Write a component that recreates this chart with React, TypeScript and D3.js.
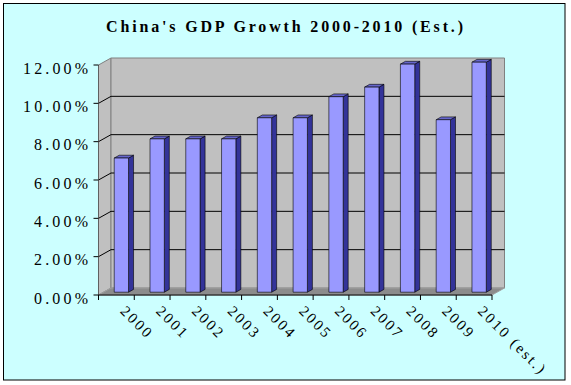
import React from 'react';
import * as d3 from 'd3';

// chart values
const years = ['2000', '2001', '2002', '2003', '2004', '2005', '2006', '2007', '2008', '2009', '2010 (est.)'];
const growth = [7.0, 8.0, 8.0, 8.0, 9.1, 9.1, 10.2, 10.7, 11.9, 9.0, 12.0];
const yTicks = [0, 2, 4, 6, 8, 10, 12];
const title = "China's GDP Growth 2000-2010 (Est.)";

const width = 571;
const height = 385;
const frame = { left: 98.5, right: 492, bottom: 295, top: 65 };
// 3d depth offset of the back wall
const depth = { dx: 12.5, dy: -7 };
const barDepth = [0.4, 0.8];
const serif = 'Liberation Serif';

const pts = (p: [number, number][]) => p.map(d => d.join(',')).join(' ');

const App = () => {
  const x = d3.scaleBand<string>()
    .domain(years)
    .range([frame.left, frame.right]);

  const y = d3.scaleLinear()
    .domain([0, 12])
    .range([frame.bottom, frame.top]);

  const fmt = (v: number) => d3.format('.2f')(v) + '%';

  const { dx, dy } = depth;
  const y0 = y(0);
  const yTop = y(12);
  const xl = frame.left;
  const xr = frame.right;

  const bw = x.bandwidth() * 0.4;
  const fx = barDepth[0] * dx;
  const fy = barDepth[0] * dy;
  const sx = (barDepth[1] - barDepth[0]) * dx;
  const sy = (barDepth[1] - barDepth[0]) * dy;

  return (
    <svg width={width} height={height} fontFamily={serif} style={{ position: 'absolute', left: 0, top: 0 }}>
      <rect x={0} y={0} width={width} height={height} fill='#fff' />
      <rect x={3.5} y={3.5} width={561.5} height={376.5} fill='#CCFFFF' stroke='#000' strokeWidth={1} />

      <text x={284.5} y={32} textAnchor='middle' fontFamily={serif} fontWeight='bold' fontSize={16}
        textLength={357} lengthAdjust='spacing' fill='#000'>{title}</text>

      {/* walls and floor */}
      <polygon points={pts([[xl, yTop], [xl + dx, yTop + dy], [xl + dx, y0 + dy], [xl, y0]])}
        fill='#C0C0C0' stroke='#808080' strokeWidth={1} />
      <polygon points={pts([[xl + dx, yTop + dy], [xr + dx, yTop + dy], [xr + dx, y0 + dy], [xl + dx, y0 + dy]])}
        fill='#C0C0C0' stroke='#808080' strokeWidth={1} />
      <polygon points={pts([[xl, y0], [xl + dx, y0 + dy], [xr + dx, y0 + dy], [xr, y0]])}
        fill='#8C8C8C' stroke='#A0A0A0' strokeWidth={1} />

      {/* gridlines */}
      <g stroke='#000' strokeWidth={1} fill='none'>
        {yTicks.filter(t => t > 0 && t < 12).map(t => (
          <polyline key={t}
            points={pts([[xl, y(t)], [xl + dx, y(t) + dy], [xr + dx, y(t) + dy]])} />
        ))}
      </g>

      {/* bars */}
      <g stroke='#000' strokeWidth={0.6} strokeLinejoin='round'>
        {years.map((yr, i) => {
          const bx = (x(yr) as number) + (x.bandwidth() - bw) / 2 + fx;
          const top = y(growth[i]) + fy;
          const bot = y0 + fy;
          return (
            <g key={yr}>
              <polygon fill='#333399'
                points={pts([[bx + bw, top], [bx + bw + sx, top + sy], [bx + bw + sx, bot + sy], [bx + bw, bot]])} />
              <polygon fill='#6666CC'
                points={pts([[bx, top], [bx + sx, top + sy], [bx + bw + sx, top + sy], [bx + bw, top]])} />
              <rect x={bx} y={top} width={bw} height={bot - top} fill='#9999FF' />
            </g>
          );
        })}
      </g>

      {/* y axis */}
      <g stroke='#000' strokeWidth={1}>
        <line x1={xl} x2={xl} y1={y0} y2={yTop} stroke='#606060' />
        {yTicks.map(t => (
          <line key={t} x1={xl - 5} x2={xl} y1={y(t)} y2={y(t)} />
        ))}
      </g>
      {yTicks.map(t => {
        const label = fmt(t);
        return (
          <text key={t} x={88} y={y(t) + 3} textAnchor='end' dominantBaseline='central'
            fontFamily={serif} fontSize={16} textLength={label.length * 11 - 1}
            lengthAdjust='spacing' fill='#000'>{label}</text>
        );
      })}

      {/* x axis */}
      <g stroke='#000' strokeWidth={1}>
        <line x1={xl} x2={xr} y1={y0} y2={y0} />
        {years.map(yr => (
          <line key={yr} x1={x(yr)} x2={x(yr)} y1={y0} y2={y0 + 5} />
        ))}
        <line x1={xr} x2={xr} y1={y0} y2={y0 + 5} />
      </g>
      {years.map(yr => {
        const cx = (x(yr) as number) + x.bandwidth() / 2;
        return (
          <text key={yr} transform={`translate(${cx + 3},${y0 + 17}) rotate(45)`}
            fontFamily={serif} fontSize={15} letterSpacing={2.4} fill='#000'>{yr}</text>
        );
      })}
    </svg>
  );
};

export default App;
